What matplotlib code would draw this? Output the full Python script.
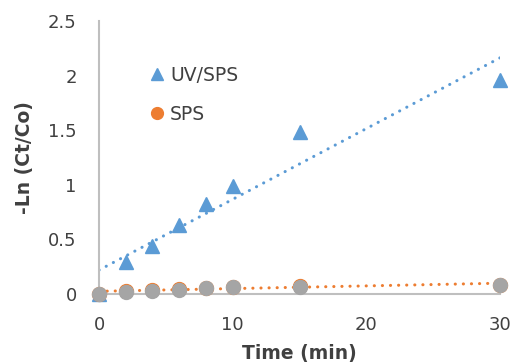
import matplotlib
matplotlib.use("Agg")
import matplotlib.pyplot as plt
import numpy as np

time = [0, 2, 4, 6, 8, 10, 15, 30]
uv_sps = [0.0, 0.29, 0.44, 0.63, 0.82, 0.99, 1.48, 1.96]
sps = [0.0, 0.025, 0.035, 0.045, 0.055, 0.065, 0.07, 0.085]
sps_gray = [0.0, 0.02, 0.03, 0.04, 0.05, 0.06, 0.06, 0.08]

xticks = [0, 10, 20, 30]
yticks = [0, 0.5, 1, 1.5, 2, 2.5]
ytick_labels = ["0", "0.5", "1", "1.5", "2", "2.5"]

blue = "#5B9BD5"
orange = "#ED7D31"
gray = "#A5A5A5"
text_col = "#404040"

plt.rcParams['font.family'] = ['DejaVu Sans']

fig = plt.figure(figsize=(5.13, 3.62), dpi=100)
ax = fig.add_axes([0.193, 0.188, 0.782, 0.754])

t = np.array(time, dtype=float)
for vals, col in [(uv_sps, blue), (sps, orange)]:
    k, b = np.polyfit(t, np.array(vals), 1)
    xx = np.array([0, 30])
    ax.plot(xx, k * xx + b, color=col, lw=2.2, linestyle=(0, (0.05, 2.6)),
            dash_capstyle='round', zorder=2)

ax.plot(time, uv_sps, linestyle='none', marker='^', ms=10, color=blue,
        label='UV/SPS', zorder=3, clip_on=False)
ax.plot(time, sps, linestyle='none', marker='o', ms=10, color=orange,
        label='SPS', zorder=3, clip_on=False)
ax.plot(time, sps_gray, linestyle='none', marker='o', ms=10, color=gray,
        zorder=4, clip_on=False)

ax.set_xlim(0, 30)
ax.set_ylim(0, 2.5)
ax.set_xticks(xticks)
ax.set_yticks(yticks)
ax.set_yticklabels(ytick_labels)
ax.tick_params(length=0, labelsize=13, colors=text_col)
ax.tick_params(axis='x', pad=16)
ax.tick_params(axis='y', pad=16)
for s in ['top', 'right']:
    ax.spines[s].set_visible(False)
for s in ['left', 'bottom']:
    ax.spines[s].set_color('#BFBFBF')
    ax.spines[s].set_linewidth(1.5)

ax.set_xlabel('Time (min)', fontsize=13.5, fontweight='bold', color=text_col, labelpad=7)
ax.set_ylabel('-Ln (Ct/Co)', fontsize=13.5, fontweight='bold', color=text_col, labelpad=10)

leg = ax.legend(loc='upper left', bbox_to_anchor=(0.128, 0.835), frameon=False,
                fontsize=13.5, handlelength=0.7, handletextpad=0.35, labelspacing=1.05,
                borderpad=0, borderaxespad=0, markerscale=0.85,
                labelcolor=text_col)

fig.savefig('out.png', dpi=100)
